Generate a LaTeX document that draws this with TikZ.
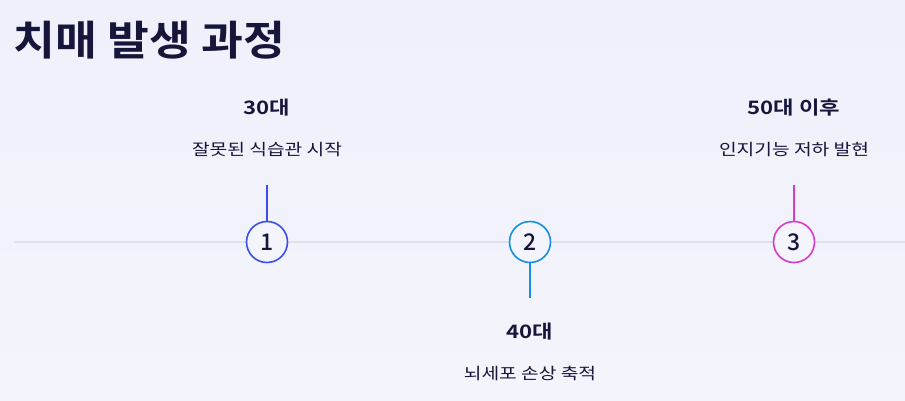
\documentclass[tikz,border=0pt]{standalone}
\usepackage{fontspec}
\setmainfont{Noto Sans CJK KR}[FakeStretch=1.2]
\newfontfamily\krbold{Noto Sans CJK KR Bold}[FakeStretch=1.2]
\newfontfamily\krtitle{Noto Sans CJK KR Bold}[FakeStretch=1.11]
\newfontfamily\krnum{Noto Sans CJK KR Medium}
\definecolor{bgA}{HTML}{F4F4FC}
\definecolor{bgB}{HTML}{F0F0FB}
\definecolor{ink}{HTML}{15163A}
\definecolor{axis}{HTML}{DFE0EA}
\definecolor{cA}{HTML}{3B4DEB}
\definecolor{cB}{HTML}{1590E0}
\definecolor{cC}{HTML}{D83CC6}
\tikzset{
  stepcirc/.style={circle, draw=#1, line width=1.6pt, fill=bgA, minimum size=41pt, inner sep=0pt, text=ink, font=\krnum\fontsize{23}{23}\selectfont},
  tick/.style={line width=1.6pt},
  agelabel/.style={text=ink, font=\krbold\fontsize{18.5}{18.5}\selectfont, anchor=center},
  desclabel/.style={text=ink, font=\fontsize{16}{16}\selectfont, anchor=center},
}
\begin{document}
\begin{tikzpicture}[x=1pt,y=-1pt]
\useasboundingbox (0,0) rectangle (905,400);
\shade[top color=bgB, bottom color=bgA] (0,0) rectangle (905,400);
\node[anchor=base west, text=ink, font=\krtitle\fontsize{41}{41}\selectfont, inner sep=0pt] (title) at (13,55) {치매 발생 과정};
\coordinate (axL) at (14,242);
\coordinate (axR) at (905,242);
\draw[axis, line width=1.5pt] (axL) -- (axR);
\node[stepcirc=cA] (s1) at (267,242) {1};
\node[stepcirc=cB] (s2) at (530,242) {2};
\node[stepcirc=cC] (s3) at (794,242) {3};
\coordinate (t1) at (267,185);
\coordinate (t2) at (530,298);
\coordinate (t3) at (794,185);
\draw[tick, cA] (s1.north) -- (t1);
\draw[tick, cB] (s2.south) -- (t2);
\draw[tick, cC] (s3.north) -- (t3);
\node[agelabel] (a1) at (267,108) {30대};
\node[desclabel] (d1) at (267,150) {잘못된 식습관 시작};
\node[agelabel] (a2) at (530,332) {40대};
\node[desclabel] (d2) at (530,373) {뇌세포 손상 축적};
\node[agelabel] (a3) at (794,108) {50대 이후};
\node[desclabel] (d3) at (794,150) {인지기능 저하 발현};
\end{tikzpicture}
\end{document}
